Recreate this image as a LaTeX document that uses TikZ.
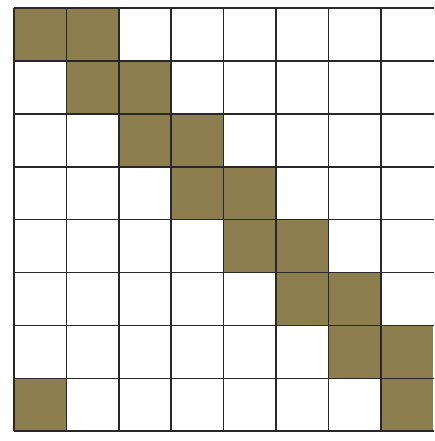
\documentclass[tikz,border=0pt]{standalone}
\definecolor{olivefill}{RGB}{141,126,80}
\definecolor{gridline}{RGB}{40,40,40}
\begin{document}
\begin{tikzpicture}[x=1pt,y=-1pt,
  cellfill/.style={fill=olivefill},
  gridstroke/.style={draw=gridline,line width=1.6pt}]
\useasboundingbox (0,0) rectangle (434,441);
\fill[white] (0,0) rectangle (434,441);
\def\cw{52.4}
\def\rh{52.9}
% filled cells: (col,row)
\foreach \c/\r in {0/0,1/0,1/1,2/1,2/2,3/2,3/3,4/3,4/4,5/4,5/5,6/5,6/6,7/6,0/7,7/7}{
  \fill[cellfill] ({14+\c*\cw},{8+\r*\rh}) rectangle ({14+(\c+1)*\cw},{8+(\r+1)*\rh});
}
% horizontal lines
\foreach \r in {0,...,8}{
  \draw[gridstroke] (14,{8+\r*\rh}) -- (434,{8+\r*\rh});
}
% vertical lines
\foreach \c in {0,...,7}{
  \draw[gridstroke] ({14+\c*\cw},8) -- ({14+\c*\cw},{8+8*\rh});
}
\end{tikzpicture}
\end{document}
